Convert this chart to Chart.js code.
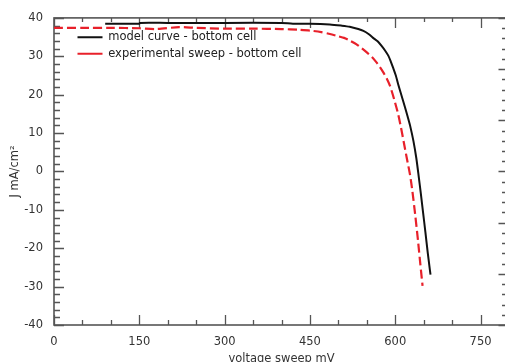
<!DOCTYPE html>
<html><head><meta charset="utf-8">
<script src="https://cdn.jsdelivr.net/npm/chart.js@4/dist/chart.umd.min.js"></script>
<style>
html,body{margin:0;padding:0;background:#fff;overflow:hidden;width:505px;height:362px}
#wrap{width:510px;height:362px}
</style>
</head><body><div id="wrap"><canvas id="c" width="510" height="362"></canvas></div>
<script>
// ---- data ----
const seriesNames = ['model curve - bottom cell', 'experimental sweep - bottom cell'];
const modelV = [90,150,151,200,300,400,420,450,485,505,520,535,544,553,561,569,576,582,588,592,596,601,605,611,617,622,626,632,637,641,645,649,653,657,660,662];
const modelJ = [38.5,38.5,38.7,38.7,38.7,38.7,38.5,38.5,38.3,38.0,37.7,37.1,36.6,35.8,34.8,33.9,32.7,31.5,30.1,28.7,27.1,25.0,22.8,19.8,16.8,14.2,12.0,7.9,3.5,-1.0,-5.8,-10.8,-15.8,-21.0,-24.6,-26.9];
const expV = [0,50,100,150,180,220,250,300,350,400,430,450,470,485,500,510,520,532,541,550,559,567,573,579,585,591,599,605,610,615,620,626,630,635,640,644,648];
const expJ = [37.4,37.4,37.4,37.3,37.1,37.6,37.4,37.2,37.2,37.1,36.9,36.7,36.3,35.8,35.2,34.8,34.1,33.1,32.1,31.0,29.8,28.4,27.2,25.8,24.2,22.2,18.3,15.0,11.5,7.6,3.7,-0.9,-5.0,-11.2,-18.0,-24.0,-29.8];
const xTickValues = [0,150,300,450,600,750];
const yTickValues = [-40,-30,-20,-10,0,10,20,30,40];
const xTitle = 'voltage sweep mV';
const yTitle = 'J mA/cm\u00B2';

const toPts = (xs, ys) => xs.map((x, i) => ({x: x, y: ys[i]}));

Chart.defaults.font.family = "'DejaVu Sans', Verdana, sans-serif";
Chart.defaults.font.size = 11.5;
Chart.defaults.color = '#333';

const AXIS = '#555';

const framePlugin = {
  id: 'frame',
  beforeDatasetsDraw(chart) {
    const {ctx, chartArea: a, scales} = chart;
    const x = scales.x, y = scales.y, y2 = scales.y2;
    ctx.save();
    ctx.strokeStyle = AXIS;
    ctx.lineWidth = 1.3;
    ctx.beginPath();
    for (let v = 0; v <= 800; v += 50) {
      const px = Math.round(x.getPixelForValue(v)) + 0.5;
      const major = v % 150 === 0;
      const lb = major ? 10 : 5;
      const lt = major ? 10 : 4;
      ctx.moveTo(px, a.bottom); ctx.lineTo(px, a.bottom - lb);
      ctx.moveTo(px, a.top); ctx.lineTo(px, a.top + lt);
    }
    for (let v = -40; v <= 40; v += 2) {
      const py = Math.round(y.getPixelForValue(v)) + 0.5;
      const l = v % 10 === 0 ? 10 : 6;
      ctx.moveTo(a.left, py); ctx.lineTo(a.left + l, py);
    }
    for (let v = 0; v <= 30; v += 1) {
      const py = Math.round(y2.getPixelForValue(v)) + 0.5;
      const l = v % 5 === 0 ? 10.5 : 7;
      ctx.moveTo(a.right, py); ctx.lineTo(a.right - l, py);
    }
    ctx.stroke();
    ctx.lineWidth = 1.6;
    ctx.strokeRect(a.left, a.top, a.right - a.left, a.bottom - a.top);
    ctx.restore();
  },
  afterLayout(chart) {
    const lg = chart.legend;
    if (!lg) return;
    const dx = 18.5, dy = 26.5;
    lg.left += dx; lg.right += dx; lg.top += dy; lg.bottom += dy;
  }
};

new Chart(document.getElementById('c'), {
  type: 'line',
  data: {
    datasets: [
      {
        label: seriesNames[0],
        data: toPts(modelV, modelJ),
        borderColor: '#111',
        borderWidth: 2,
        pointRadius: 0,
        pointStyle: 'line',
        tension: 0.25,
        fill: false
      },
      {
        label: seriesNames[1],
        data: toPts(expV, expJ),
        borderColor: '#e8202a',
        borderWidth: 2.2,
        borderDash: [9, 4],
        pointRadius: 0,
        pointStyle: 'line',
        tension: 0.25,
        fill: false
      }
    ]
  },
  options: {
    responsive: false,
    animation: false,
    devicePixelRatio: 1,
    layout: {padding: {top: 15, right: 1, bottom: 0, left: 0}},
    plugins: {
      legend: {
        position: 'chartArea',
        align: 'start',
        labels: {
          usePointStyle: true,
          pointStyle: 'line',
          pointStyleWidth: 25,
          padding: 5,
          color: '#222',
          font: {size: 11.5}
        }
      },
      tooltip: {enabled: false}
    },
    scales: {
      x: {
        type: 'linear',
        min: 0, max: 800,
        afterBuildTicks: s => { s.ticks = xTickValues.map(v => ({value: v})); },
        afterFit: s => { s.height = 37; },
        grid: {display: false, drawTicks: false},
        border: {display: false},
        ticks: {padding: 10, color: '#333', maxRotation: 0, autoSkip: false},
        title: {display: true, text: xTitle, color: '#333', padding: {top: 0, bottom: -4}}
      },
      y: {
        type: 'linear',
        position: 'left',
        min: -40, max: 40,
        afterBuildTicks: s => { s.ticks = yTickValues.map(v => ({value: v})); },
        afterFit: s => { s.width = 54; },
        grid: {display: false, drawTicks: false},
        border: {display: false},
        ticks: {padding: 11, color: '#333'},
        title: {display: true, text: yTitle, color: '#333', padding: {top: 8, bottom: 0}}
      },
      y2: {
        type: 'linear',
        position: 'right',
        min: 0, max: 30,
        display: false
      }
    }
  },
  plugins: [framePlugin]
});
</script>
</body></html>
